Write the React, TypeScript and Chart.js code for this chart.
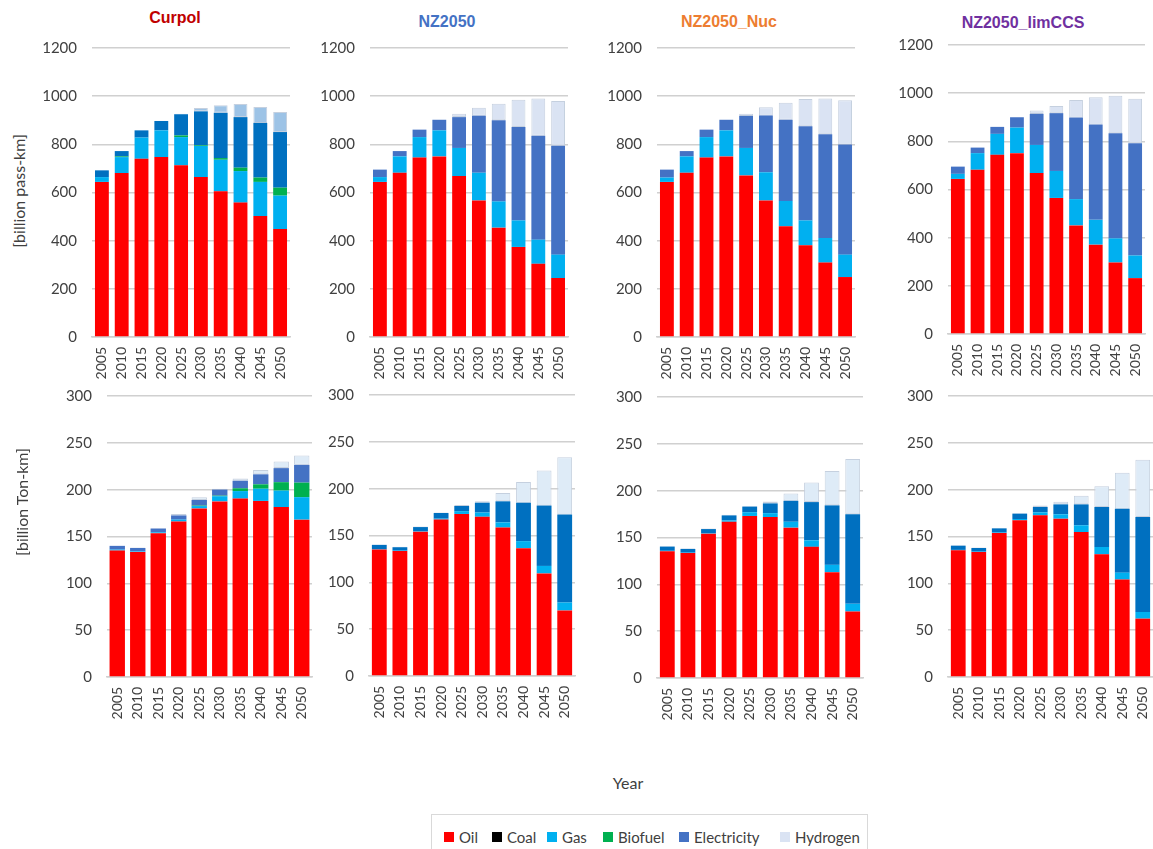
import React, { useEffect, useRef } from "react";
import { Chart, registerables } from "chart.js";

Chart.register(...registerables);

const years = ["2005", "2010", "2015", "2020", "2025", "2030", "2035", "2040", "2045", "2050"];
const zeros = [0, 0, 0, 0, 0, 0, 0, 0, 0, 0];

// Passenger transport [billion pass-km]
const curpolPassOil = [644, 681, 740, 747, 713, 664, 605, 558, 502, 448];
const curpolPassGas = [20, 66, 88, 111, 117, 129, 131, 131, 142, 139];
const curpolPassBiofuel = [0, 3, 0, 0, 7, 3, 7, 14, 18, 33];
const curpolPassElec = [28, 22, 30, 39, 88, 141, 188, 210, 227, 231];
const curpolPassHydrogen = [0, 0, 2, 1, 2, 14, 31, 54, 66, 83];

const nzPassOil = [644, 682, 745, 750, 668, 567, 454, 374, 304, 245];
const nzPassGas = [20, 68, 85, 108, 117, 115, 109, 110, 100, 97];
const nzPassElec = [31, 22, 31, 44, 128, 237, 337, 388, 432, 452];
const nzPassHydrogen = [0, 0, 0, 0, 14, 33, 69, 113, 154, 186];

const nucPassOil = [644, 682, 745, 750, 671, 567, 460, 381, 309, 249];
const nucPassGas = [18, 68, 85, 108, 114, 117, 105, 103, 102, 93];
const nucPassElec = [33, 22, 31, 44, 133, 236, 337, 391, 431, 457];
const nucPassHydrogen = [0, 0, 0, 0, 9, 34, 71, 113, 148, 184];

const ccsPassOil = [644, 682, 744, 751, 668, 565, 451, 371, 297, 232];
const ccsPassGas = [21, 69, 87, 106, 117, 112, 109, 103, 100, 94];
const ccsPassElec = [30, 23, 29, 43, 129, 240, 339, 396, 437, 466];
const ccsPassHydrogen = [0, 0, 0, 0, 14, 30, 73, 113, 155, 185];

// Freight transport [billion Ton-km]
const curpolFrOil = [135, 133.5, 153.5, 166, 180, 187.5, 190.5, 188, 181.5, 168];
const curpolFrGas = [1, 0.5, 1, 2, 2.5, 5.5, 8, 13, 17.5, 24];
const curpolFrBiofuel = [0, 0, 0, 0, 0.5, 0.6, 3, 4.7, 9, 15.5];
const curpolFrElec = [4, 3.7, 4, 4.5, 6, 6.5, 8, 10.7, 15, 19];
const curpolFrHydrogen = [0.5, 0.5, 0.5, 1.5, 3, 1, 2.5, 4.6, 7, 10];

const nzFrOil = [135, 133.5, 154, 167, 173, 170, 158.5, 136.5, 109.5, 70];
const nzFrGas = [0.5, 0.3, 0.5, 1, 3, 4.5, 5.5, 7.5, 8, 8.5];
const nzFrElec = [4.5, 3.7, 4.5, 6, 5.5, 10.5, 22.5, 41, 64.5, 94];
const nzFrHydrogen = [0.5, 0.5, 0.5, 0.5, 1, 1.5, 9, 22, 37.5, 61];

const nucFrOil = [135.3, 133.5, 154, 166.8, 173, 171.8, 160.5, 140, 113, 71];
const nucFrGas = [0.5, 0.3, 0.5, 1.5, 4, 4.2, 6.3, 7, 7.8, 8.2];
const nucFrElec = [4.5, 4, 4.5, 5.3, 6, 10.4, 22.4, 40.8, 63.5, 95.5];
const nucFrHydrogen = [0.5, 0.5, 0.5, 0.7, 0.7, 2.1, 7.8, 21, 36.6, 59];

const ccsFrOil = [135.2, 133.5, 153.7, 167.3, 172.6, 169, 154.8, 131, 104, 62.3];
const ccsFrGas = [0.5, 0.3, 0.5, 1.4, 3.2, 4.7, 7.2, 7.8, 7.4, 7.1];
const ccsFrElec = [4.5, 3.9, 4.5, 5.7, 5.7, 10.6, 22.3, 42.7, 68.3, 101.4];
const ccsFrHydrogen = [0.5, 0.5, 0.5, 0.5, 1.5, 2.9, 9.3, 22.1, 38.3, 61.2];

const seriesNames = ["Oil", "Coal", "Gas", "Biofuel", "Electricity", "Hydrogen"];
const legendColors = ["#FF0000", "#000000", "#00B0F0", "#00B050", "#4472C4", "#DAE3F3"];

const FONT = "Lato, 'Open Sans', sans-serif";
const TEXT = "#404040";

type Panel = {
  key: string;
  L: number; R: number; T: number; B: number;
  max: number; step: number;
  data: number[][];
  elec: string; hyd: string;
  barPct: number;
};

const panels: Panel[] = [
  { key: "p1", L: 92, R: 290, T: 48, B: 337, max: 1200, step: 200,
    data: [curpolPassOil, zeros, curpolPassGas, curpolPassBiofuel, curpolPassElec, curpolPassHydrogen],
    elec: "#0070C0", hyd: "#9DC3E6", barPct: 0.7 },
  { key: "p2", L: 370, R: 568, T: 48, B: 337, max: 1200, step: 200,
    data: [nzPassOil, zeros, nzPassGas, zeros, nzPassElec, nzPassHydrogen],
    elec: "#4472C4", hyd: "#DAE3F3", barPct: 0.7 },
  { key: "p3", L: 657, R: 855, T: 48, B: 337, max: 1200, step: 200,
    data: [nucPassOil, zeros, nucPassGas, zeros, nucPassElec, nucPassHydrogen],
    elec: "#4472C4", hyd: "#DAE3F3", barPct: 0.7 },
  { key: "p4", L: 948, R: 1145, T: 45, B: 334, max: 1200, step: 200,
    data: [ccsPassOil, zeros, ccsPassGas, zeros, ccsPassElec, ccsPassHydrogen],
    elec: "#4472C4", hyd: "#DAE3F3", barPct: 0.7 },
  { key: "p5", L: 107, R: 312, T: 396, B: 677, max: 300, step: 50,
    data: [curpolFrOil, zeros, curpolFrGas, curpolFrBiofuel, curpolFrElec, curpolFrHydrogen],
    elec: "#4472C4", hyd: "#DEEBF7", barPct: 0.75 },
  { key: "p6", L: 369, R: 575, T: 395, B: 676, max: 300, step: 50,
    data: [nzFrOil, zeros, nzFrGas, zeros, nzFrElec, nzFrHydrogen],
    elec: "#0070C0", hyd: "#DEEBF7", barPct: 0.72 },
  { key: "p7", L: 657, R: 863, T: 397, B: 678, max: 300, step: 50,
    data: [nucFrOil, zeros, nucFrGas, zeros, nucFrElec, nucFrHydrogen],
    elec: "#0070C0", hyd: "#DEEBF7", barPct: 0.72 },
  { key: "p8", L: 948, R: 1153, T: 396, B: 677, max: 300, step: 50,
    data: [ccsFrOil, zeros, ccsFrGas, zeros, ccsFrElec, ccsFrHydrogen],
    elec: "#0070C0", hyd: "#DEEBF7", barPct: 0.72 },
];

const Y_W = 60;
const TOP_PAD = 12;
const X_H = 50;

function PanelChart({ p }: { p: Panel }) {
  const ref = useRef<HTMLCanvasElement | null>(null);
  const plotW = p.R - p.L;
  const plotH = p.B - p.T;
  const rPad = p.R >= 1150 ? 0 : 4;
  const width = Y_W + plotW + rPad;
  const height = TOP_PAD + plotH + X_H;

  useEffect(() => {
    if (!ref.current) return;
    const colors = ["#FF0000", "#000000", "#00B0F0", "#00B050", p.elec, p.hyd];
    const chart = new Chart(ref.current, {
      type: "bar",
      data: {
        labels: years,
        datasets: seriesNames.map((name, i) => ({
          label: name,
          data: p.data[i],
          backgroundColor: colors[i],
          borderColor: i === 5 ? "#C5D0DF" : colors[i],
          borderWidth: i === 5 ? 1 : 0,
          borderSkipped: false,
          barPercentage: p.barPct,
          categoryPercentage: 1,
        })),
      },
      options: {
        animation: false,
        responsive: false,
        maintainAspectRatio: false,
        devicePixelRatio: 1,
        layout: { padding: { top: TOP_PAD, right: rPad, left: 0, bottom: 0 } },
        plugins: {
          legend: { display: false },
          tooltip: { enabled: false },
          title: { display: false },
        },
        scales: {
          x: {
            stacked: true,
            grid: { display: false, drawTicks: false },
            border: { display: true, color: "#D0D0D0", width: 1.5 },
            ticks: {
              minRotation: 90,
              maxRotation: 90,
              autoSkip: false,
              padding: 10,
              color: TEXT,
              font: { family: FONT, size: 14 },
            },
            afterFit: (s: any) => {
              s.height = X_H;
              s.paddingLeft = 0;
              s.paddingRight = 0;
            },
          },
          y: {
            stacked: true,
            min: 0,
            max: p.max,
            ticks: {
              stepSize: p.step,
              padding: 15,
              color: TEXT,
              font: { family: FONT, size: 15 },
              callback: (v: any) => String(v),
            },
            grid: { color: "#D0D0D0", lineWidth: 1.5, drawTicks: false },
            border: { display: false },
            afterFit: (s: any) => {
              s.width = Y_W;
              s.paddingTop = 0;
              s.paddingBottom = 0;
            },
          },
        },
      },
    });
    return () => chart.destroy();
  }, []);

  return (
    <canvas
      ref={ref}
      width={width}
      height={height}
      style={{
        position: "absolute",
        left: p.L - Y_W,
        top: p.T - TOP_PAD,
        width,
        height,
      }}
    />
  );
}

const titles = [
  { text: "Curpol", x: 175, y: 18, color: "#C00000" },
  { text: "NZ2050", x: 447, y: 22, color: "#4472C4" },
  { text: "NZ2050_Nuc", x: 729, y: 22, color: "#ED7D31" },
  { text: "NZ2050_limCCS", x: 1023, y: 23, color: "#7030A0" },
];

const legendX = [444, 492, 547, 603, 679, 780];

export default function App() {
  return (
    <div
      style={{
        position: "fixed",
        left: 0,
        top: 0,
        width: 1153,
        height: 849,
        overflow: "hidden",
        background: "#FFFFFF",
        fontFamily: FONT,
      }}
    >
      {panels.map((p) => (
        <PanelChart key={p.key} p={p} />
      ))}
      {titles.map((t) => (
        <div
          key={t.text}
          style={{
            position: "absolute",
            left: t.x - 100,
            top: t.y - 10,
            width: 200,
            height: 20,
            lineHeight: "20px",
            textAlign: "center",
            fontFamily: "'Liberation Sans', Arial, sans-serif",
            fontWeight: "bold",
            fontSize: 16,
            color: t.color,
          }}
        >
          {t.text}
        </div>
      ))}
      <div
        style={{
          position: "absolute",
          left: 19 - 100,
          top: 191 - 11,
          width: 200,
          height: 22,
          lineHeight: "22px",
          textAlign: "center",
          fontSize: 16,
          color: TEXT,
          transform: "rotate(-90deg)",
        }}
      >
        [billion pass-km]
      </div>
      <div
        style={{
          position: "absolute",
          left: 22 - 100,
          top: 502 - 11,
          width: 200,
          height: 22,
          lineHeight: "22px",
          textAlign: "center",
          fontSize: 16,
          color: TEXT,
          transform: "rotate(-90deg)",
        }}
      >
        [billion Ton-km]
      </div>
      <div
        style={{
          position: "absolute",
          left: 628 - 50,
          top: 783 - 11,
          width: 100,
          height: 22,
          lineHeight: "22px",
          textAlign: "center",
          fontSize: 16,
          color: TEXT,
        }}
      >
        Year
      </div>
      <div
        style={{
          position: "absolute",
          left: 431,
          top: 814,
          width: 437,
          height: 50,
          border: "1px solid #D9D9D9",
          boxSizing: "border-box",
        }}
      />
      {seriesNames.map((name, i) => (
        <div
          key={name}
          style={{
            position: "absolute",
            left: legendX[i],
            top: 837 - 10,
            height: 20,
            display: "flex",
            alignItems: "center",
            whiteSpace: "nowrap",
          }}
        >
          <span
            style={{
              display: "inline-block",
              width: 10,
              height: 10,
              background: legendColors[i],
              marginRight: 5,
            }}
          />
          <span style={{ fontSize: 15, color: TEXT, lineHeight: "20px" }}>{name}</span>
        </div>
      ))}
    </div>
  );
}
